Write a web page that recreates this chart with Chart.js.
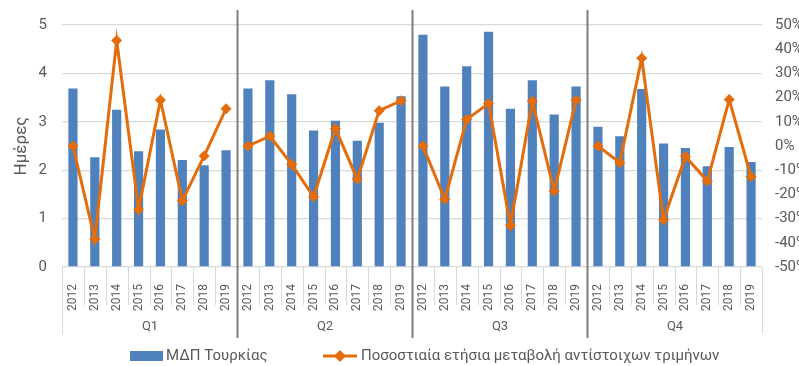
<!DOCTYPE html>
<html>
<head>
<meta charset="utf-8">
<script src="https://cdn.jsdelivr.net/npm/chart.js@4.4.1/dist/chart.umd.min.js"></script>
<style>
html, body { margin: 0; padding: 0; background: #fff; }
#wrap { width: 799px; height: 366px; }
</style>
</head>
<body>
<div id="wrap"><canvas id="chart"></canvas></div>
<script>
const quarters = ['Q1', 'Q2', 'Q3', 'Q4'];
const years = ['2012', '2013', '2014', '2015', '2016', '2017', '2018', '2019'];

// ΜΔΠ Τουρκίας (days), per quarter 2012..2019
const gdpQ1 = [3.69, 2.27, 3.25, 2.39, 2.84, 2.21, 2.10, 2.41];
const gdpQ2 = [3.69, 3.86, 3.57, 2.82, 3.02, 2.61, 2.98, 3.53];
const gdpQ3 = [4.80, 3.73, 4.15, 4.86, 3.27, 3.86, 3.15, 3.73];
const gdpQ4 = [2.90, 2.70, 3.68, 2.55, 2.46, 2.08, 2.48, 2.17];

// yearly % change of the same quarter
const chgQ1 = [0, -38.5, 43.6, -26.2, 19.0, -22.6, -4.1, 15.4];
const chgQ2 = [0, 4.1, -7.6, -21.0, 7.2, -13.7, 14.6, 18.7];
const chgQ3 = [0, -22.0, 11.0, 17.5, -32.8, 18.5, -18.6, 18.9];
const chgQ4 = [0, -6.9, 36.3, -30.5, -4.3, -14.5, 19.2, -12.7];

const barLabel = 'ΜΔΠ Τουρκίας';
const lineLabel = 'Ποσοστιαία ετήσια μεταβολή αντίστοιχων τριμήνων';

const blue = '#4f81bd';
const orange = '#e46c0a';
const textColor = '#595959';
const font = 'Roboto, "Noto Sans", sans-serif';

const labels = quarters.flatMap(() => years);
const gdp = [...gdpQ1, ...gdpQ2, ...gdpQ3, ...gdpQ4];
const change = [...chgQ1, ...chgQ2, ...chgQ3, ...chgQ4];

// multi-level axis (year cells + quarter groups) and the legend
const groupPlugin = {
    id: 'groups',
    afterDraw(chart) {
        const { ctx, chartArea, scales: { x } } = chart;
        const n = years.length;
        const step = x.getPixelForValue(1) - x.getPixelForValue(0);
        const edge = i => Math.round(x.getPixelForValue(i) - step / 2) + 0.5;
        ctx.save();

        for (let i = 0; i <= labels.length; i++) {
            const px = edge(i);
            ctx.beginPath();
            if (i % n === 0 && i > 0 && i < labels.length) {
                ctx.strokeStyle = '#7f7f7f';
                ctx.lineWidth = 2;
                ctx.moveTo(px, 10);
                ctx.lineTo(px, 338);
            } else {
                ctx.strokeStyle = '#d9d9d9';
                ctx.lineWidth = 1;
                ctx.moveTo(px, chartArea.bottom);
                ctx.lineTo(px, i % n === 0 ? 334 : 305);
            }
            ctx.stroke();
        }

        ctx.fillStyle = textColor;
        ctx.font = '13px ' + font;
        ctx.textAlign = 'center';
        ctx.textBaseline = 'middle';
        quarters.forEach((q, g) => {
            const cx = (edge(g * n) + edge((g + 1) * n)) / 2;
            ctx.fillText(q, cx, 327);
        });

        // legend
        const ly = 356;
        ctx.font = '15px ' + font;
        ctx.textAlign = 'left';
        ctx.fillStyle = blue;
        ctx.fillRect(130, ly - 5, 33, 10);
        ctx.fillStyle = textColor;
        ctx.fillText(barLabel, 166, ly);

        ctx.strokeStyle = orange;
        ctx.lineWidth = 3;
        ctx.beginPath();
        ctx.moveTo(323, ly);
        ctx.lineTo(357, ly);
        ctx.stroke();
        ctx.fillStyle = orange;
        ctx.beginPath();
        ctx.moveTo(340, ly - 6);
        ctx.lineTo(346, ly);
        ctx.lineTo(340, ly + 6);
        ctx.lineTo(334, ly);
        ctx.closePath();
        ctx.fill();
        ctx.fillStyle = textColor;
        ctx.fillText(lineLabel, 361, ly);

        ctx.restore();
    }
};

new Chart(document.getElementById('chart'), {
    data: {
        labels,
        datasets: [
            {
                type: 'line',
                label: lineLabel,
                data: change,
                yAxisID: 'y2',
                borderColor: orange,
                backgroundColor: orange,
                borderWidth: 3,
                pointStyle: 'rectRot',
                pointRadius: 5,
                pointBorderWidth: 1,
                tension: 0,
                segment: {
                    borderColor: ctx => (ctx.p0DataIndex % years.length === years.length - 1 ? 'transparent' : orange)
                },
                order: 0
            },
            {
                type: 'bar',
                label: barLabel,
                data: gdp,
                yAxisID: 'y',
                backgroundColor: blue,
                categoryPercentage: 1,
                barPercentage: 0.42,
                order: 1
            }
        ]
    },
    options: {
        responsive: true,
        maintainAspectRatio: false,
        animation: false,
        layout: { padding: { top: 25, left: 0, right: 0, bottom: 0 } },
        plugins: {
            legend: { display: false },
            tooltip: { enabled: false }
        },
        scales: {
            x: {
                offset: true,
                grid: { display: false },
                border: { display: false },
                ticks: {
                    color: textColor,
                    font: { family: font, size: 12 },
                    minRotation: 90,
                    maxRotation: 90,
                    autoSkip: false,
                    padding: 9
                },
                afterFit: scale => { scale.height = 99; }
            },
            y: {
                position: 'left',
                min: 0,
                max: 5,
                ticks: {
                    stepSize: 1,
                    color: textColor,
                    font: { family: font, size: 15 },
                    padding: 15
                },
                grid: { color: '#d9d9d9', lineWidth: 1.3, drawTicks: false },
                border: { display: false },
                title: {
                    display: true,
                    text: 'Ημέρες',
                    color: textColor,
                    font: { family: font, size: 17 },
                    padding: { top: 12 }
                },
                afterFit: scale => { scale.width = 62; }
            },
            y2: {
                position: 'right',
                min: -50,
                max: 50,
                ticks: {
                    stepSize: 10,
                    color: textColor,
                    font: { family: font, size: 15 },
                    padding: 13,
                    callback: v => v + '%'
                },
                grid: { drawOnChartArea: false, drawTicks: false },
                border: { display: false },
                afterFit: scale => { scale.width = 37; }
            }
        }
    },
    plugins: [groupPlugin]
});
</script>
</body>
</html>
